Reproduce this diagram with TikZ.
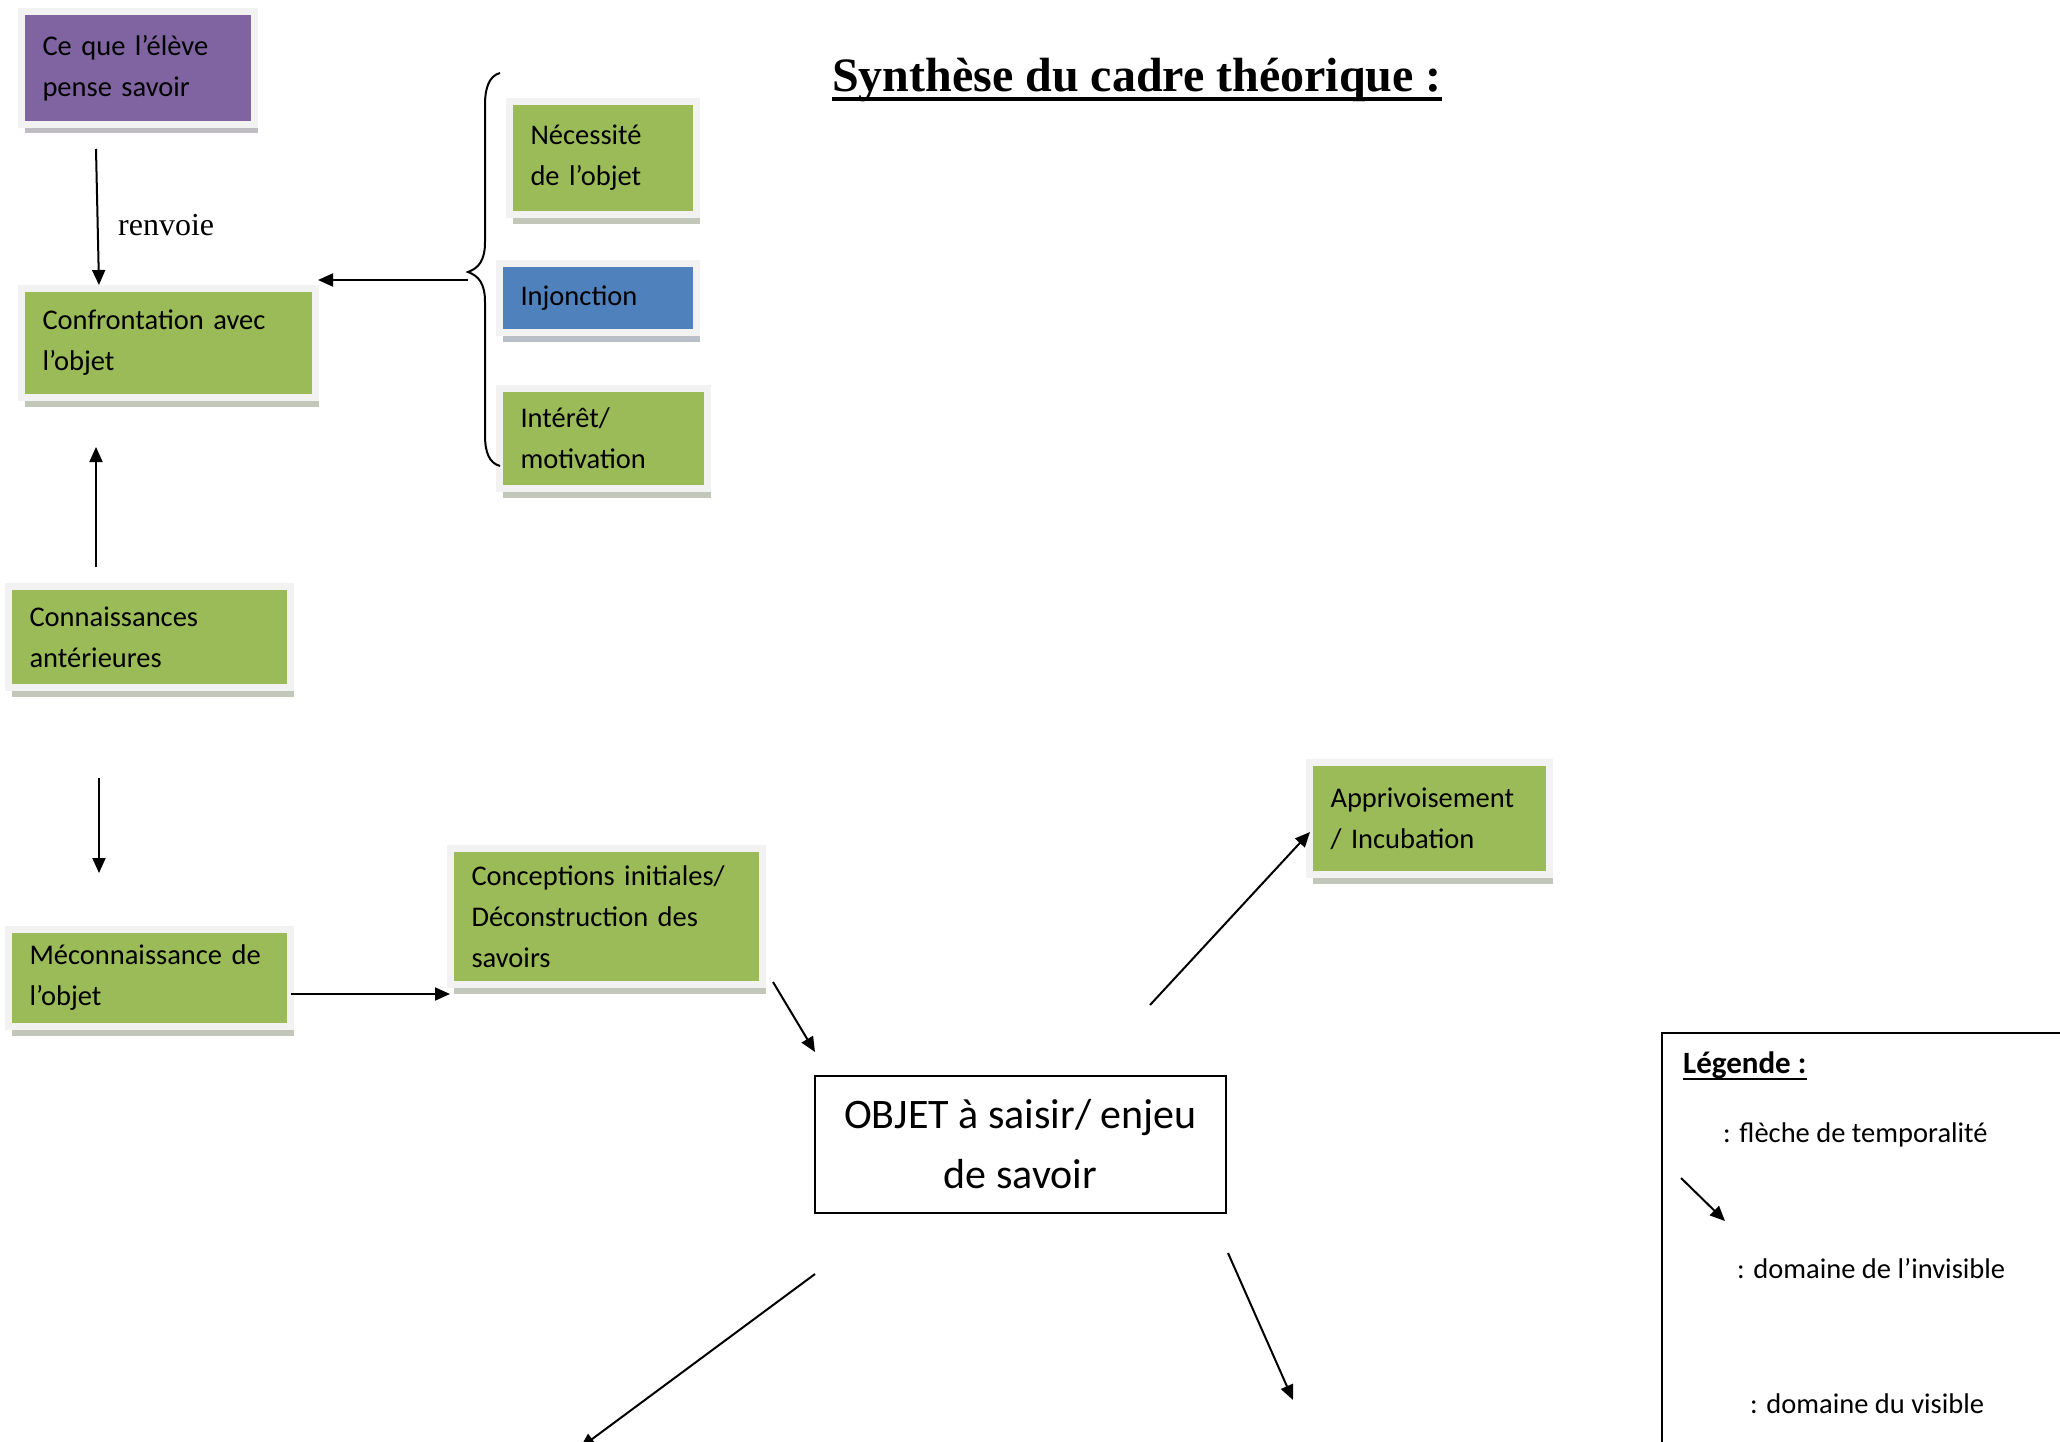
\documentclass[tikz,border=0pt]{standalone}
\usepackage{fontspec}
\setmainfont{Carlito}
\newfontfamily\tnrfont{Liberation Serif}
\usetikzlibrary{arrows.meta,shadows}
\definecolor{grn}{HTML}{9BBB59}
\definecolor{prp}{HTML}{8064A2}
\definecolor{blu}{HTML}{4F81BD}
\definecolor{framecol}{HTML}{F2F2F2}
\newcommand\bxfont{\fontsize{28.5}{41}\selectfont}
\newcommand\objfont{\fontsize{42}{60}\selectfont}
\tikzset{
  tbox/.style={anchor=north west, draw=framecol, line width=7pt, outer sep=0pt, fill=#1,
    align=left, font=\bxfont, inner xsep=21pt, inner ysep=0pt,
    drop shadow={shadow xshift=3pt, shadow yshift=-9pt, fill=#1!25!gray!50!white, opacity=1}},
  arr/.style={line width=2pt, -{Triangle[length=15pt,width=13pt]}},
}
\begin{document}
\begin{tikzpicture}[x=1pt,y=-1pt]
\useasboundingbox[fill=white] (0,0) rectangle (2060,1442);

% title
\node[anchor=base west, inner sep=0pt, font=\tnrfont\bfseries\fontsize{48}{56}\selectfont] (title) at (832,92) {Synthèse du cadre théorique :};
\draw[line width=4.5pt] ([yshift=-7pt]title.base west) -- ([yshift=-7pt]title.base east);

% boxes
\node[tbox=prp, minimum width=233pt, minimum height=113pt, text width=191pt] (purple) at (21.5,11.5) {Ce que l’élève\\pense savoir};
\node[tbox=grn, minimum width=294pt, minimum height=109pt, text width=252pt] (conf) at (21.5,288.5) {Confrontation avec\\l’objet};
\node[tbox=grn, minimum width=187pt, minimum height=113pt, text width=145pt] (nec) at (509.5,101.5) {Nécessité\\de l’objet};
\node[tbox=blu, minimum width=197pt, minimum height=69pt, text width=155pt] (inj) at (499.5,263.5) {Injonction};
\node[tbox=grn, minimum width=208pt, minimum height=100pt, text width=166pt] (int) at (499.5,388.5) {Intérêt/\\motivation};
\node[tbox=grn, minimum width=282pt, minimum height=101pt, text width=240pt] (conn) at (8.5,586.5) {Connaissances\\antérieures};
\node[tbox=grn, minimum width=282pt, minimum height=97pt, text width=240pt] (mec) at (8.5,929.5) {\mbox{Méconnaissance de}\\l’objet};
\node[tbox=grn, minimum width=312pt, minimum height=136pt, text width=270pt] (conc) at (450.5,848.5) {\mbox{Conceptions initiales/}\\\mbox{Déconstruction des}\\savoirs};
\node[tbox=grn, minimum width=240pt, minimum height=112pt, text width=198pt] (appr) at (1309.5,762.5) {\mbox{Apprivoisement}\\/ Incubation};

\node[draw, line width=2pt, minimum width=411pt, minimum height=137pt, align=center, font=\objfont, inner sep=0pt, outer sep=0pt] (obj) at (1020.5,1144.5) {OBJET à saisir/ enjeu\\de savoir};

% label
\node[anchor=base west, inner sep=0pt, font=\tnrfont\fontsize{32}{38}\selectfont] (renv) at (118,235) {renvoie};

% brace
\draw[line width=2pt] (500,73) .. controls (489,76) and (485,88) .. (485,105) -- (485,242) .. controls (485,260) and (479,268) .. (468,272) .. controls (479,276) and (485,284) .. (485,302) -- (485,435) .. controls (485,452) and (489,463) .. (500,466);

% connector end points
\coordinate (p1) at (96,149);   \coordinate (p2) at (99,285);
\coordinate (b1) at (468,280);  \coordinate (b2) at (318,280);
\coordinate (u1) at (96,567);   \coordinate (u2) at (96,447);
\coordinate (d1) at (99,778);   \coordinate (d2) at (99,873);
\coordinate (m1) at (291,994);  \coordinate (m2) at (450,994);
\coordinate (c1) at (773,982);  \coordinate (c2) at (815,1052);
\coordinate (o1) at (1150,1005); \coordinate (o2) at (1310,832);
\coordinate (o3) at (815,1274); \coordinate (o4) at (580,1448);
\coordinate (o5) at (1228,1253); \coordinate (o6) at (1293,1400);

\draw[arr] (p1) -- (p2);
\draw[arr] (b1) -- (b2);
\draw[arr] (u1) -- (u2);
\draw[arr] (d1) -- (d2);
\draw[arr] (m1) -- (m2);
\draw[arr] (c1) -- (c2);
\draw[arr] (o1) -- (o2);
\draw[arr] (o3) -- (o4);
\draw[arr] (o5) -- (o6);

% legend
\draw[line width=2pt] (1662,1450) -- (1662,1033) -- (2070,1033);
\node[anchor=base west, inner sep=0pt, font=\fontsize{31}{41}\selectfont\bfseries] (leg) at (1683,1073) {Légende :};
\draw[line width=2.5pt] ([yshift=-6pt]leg.base west) -- ([yshift=-6pt]leg.base east);
\node[anchor=base west, inner sep=0pt, font=\bxfont] (l1) at (1723,1142) {: flèche de temporalité};
\coordinate (la1) at (1681,1178); \coordinate (la2) at (1725,1221);
\draw[arr] (la1) -- (la2);
\node[anchor=base west, inner sep=0pt, font=\bxfont] (l2) at (1737,1278) {: domaine de l’invisible};
\node[anchor=base west, inner sep=0pt, font=\bxfont] (l3) at (1750,1413) {: domaine du visible};
\end{tikzpicture}
\end{document}
